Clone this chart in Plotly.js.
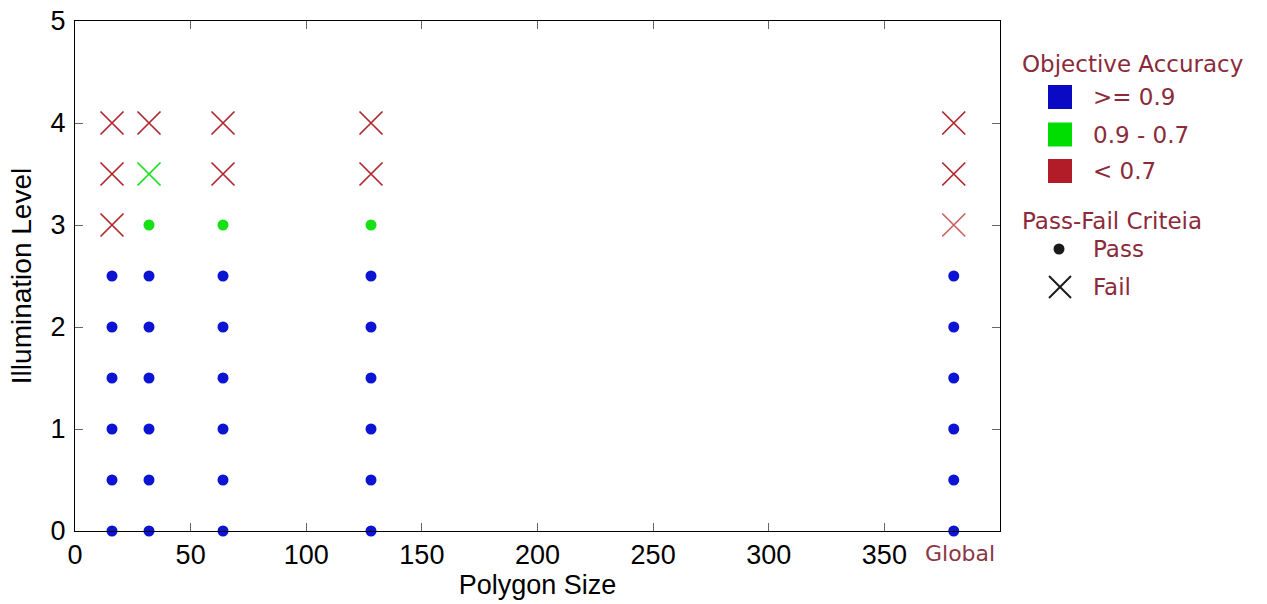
<!DOCTYPE html>
<html>
<head>
<meta charset="utf-8">
<script src="https://cdn.plot.ly/plotly-3.0.1.min.js"></script>
<style>html,body{margin:0;padding:0;background:#fff;}#chart{width:1267px;height:604px;}</style>
</head>
<body>
<div id="chart"></div>
<script>
// ---- Data ----
const polygonSizes = [16, 32, 64, 128, 380];          // 380 = "Global"
const illuminationLevels = [0, 0.5, 1, 1.5, 2, 2.5, 3, 3.5, 4];

const accuracy16     = ['high','high','high','high','high','high','low','low','low'];
const result16       = ['pass','pass','pass','pass','pass','pass','fail','fail','fail'];
const accuracy32     = ['high','high','high','high','high','high','mid','mid','low'];
const result32       = ['pass','pass','pass','pass','pass','pass','pass','fail','fail'];
const accuracy64     = ['high','high','high','high','high','high','mid','low','low'];
const result64       = ['pass','pass','pass','pass','pass','pass','pass','fail','fail'];
const accuracy128    = ['high','high','high','high','high','high','mid','low','low'];
const result128      = ['pass','pass','pass','pass','pass','pass','pass','fail','fail'];
const accuracyGlobal = ['high','high','high','high','high','high','low','low','low'];
const resultGlobal   = ['pass','pass','pass','pass','pass','pass','fail','fail','fail'];

const accuracyClasses = ['high', 'mid', 'low'];
const accuracyLabels  = ['>= 0.9', '0.9 - 0.7', '< 0.7'];
const resultClasses   = ['pass', 'fail'];
const resultLabels    = ['Pass', 'Fail'];

const xTickValues = [0, 50, 100, 150, 200, 250, 300, 350];
const yTickValues = [0, 1, 2, 3, 4, 5];
const globalLabel = 'Global';

// ---- Styling ----
const markColors   = {high: '#0a14d2', mid: '#16e016', low: '#b3262b'};
const swatchColors = {high: '#0a0ac4', mid: '#00dd00', low: '#b21c28'};
const legendColor  = '#8b2a3a';
const legendFont   = 'DejaVu Sans, Verdana, sans-serif';

const accuracyCols = [accuracy16, accuracy32, accuracy64, accuracy128, accuracyGlobal];
const resultCols   = [result16, result32, result64, result128, resultGlobal];

const traces = [];
accuracyClasses.forEach(acc => {
  resultClasses.forEach(res => {
    const xs = [], ys = [], op = [];
    polygonSizes.forEach((sz, i) => {
      illuminationLevels.forEach((lv, j) => {
        if (accuracyCols[i][j] === acc && resultCols[i][j] === res) {
          xs.push(sz); ys.push(lv);
          // the Global fail mark at level 3 is drawn fainter in the reference
          op.push(i === polygonSizes.length - 1 && lv === 3 && res === 'fail' ? 0.72 : 1);
        }
      });
    });
    if (!xs.length) return;
    const isPass = res === 'pass';
    traces.push({
      type: 'scatter', mode: 'markers', x: xs, y: ys, showlegend: false,
      cliponaxis: false, hoverinfo: 'x+y',
      marker: isPass
        ? {symbol: 'circle', size: 11, color: markColors[acc], opacity: op, line: {width: 0}}
        : {symbol: 'x-thin-open', size: 23, color: markColors[acc], opacity: op,
           line: {width: 1.7, color: markColors[acc]}}
    });
  });
});

// ---- Plot-area geometry (pixels) for the hand-built legend ----
const W = 1267, H = 604, L = 75, R = 267, T = 21, B = 73;
const pw = W - L - R, ph = H - T - B;
const px = v => (v - L) / pw;
const py = v => (H - B - v) / ph;

const shapes = [];
const annotations = [];
const lgFont = {family: legendFont, size: 23, color: legendColor};

// Objective Accuracy legend
annotations.push({xref:'paper', yref:'paper', x: px(1020), y: py(64), xanchor:'left', yanchor:'middle',
  text:'Objective Accuracy', showarrow:false, font: lgFont});
const swatchY = [97, 134.5, 171];
accuracyClasses.forEach((acc, k) => {
  shapes.push({type:'rect', xref:'paper', yref:'paper', x0: px(1048), x1: px(1072),
    y0: py(swatchY[k] - 12), y1: py(swatchY[k] + 12), fillcolor: swatchColors[acc], line:{width:0}});
  annotations.push({xref:'paper', yref:'paper', x: px(1091), y: py(swatchY[k]), xanchor:'left', yanchor:'middle',
    text: accuracyLabels[k], showarrow:false, font: lgFont});
});

// Pass-Fail legend
annotations.push({xref:'paper', yref:'paper', x: px(1020), y: py(221), xanchor:'left', yanchor:'middle',
  text:'Pass-Fail Criteia', showarrow:false, font: lgFont});
shapes.push({type:'circle', xref:'paper', yref:'paper', x0: px(1053.5), x1: px(1064.5),
  y0: py(243.5), y1: py(254.5), fillcolor:'#1a1a1a', line:{width:0}});
shapes.push({type:'line', xref:'paper', yref:'paper', x0: px(1049), x1: px(1071), y0: py(276), y1: py(298),
  line:{color:'#1a1a1a', width:2}});
shapes.push({type:'line', xref:'paper', yref:'paper', x0: px(1049), x1: px(1071), y0: py(298), y1: py(276),
  line:{color:'#1a1a1a', width:2}});
const passFailY = [249, 287];
resultClasses.forEach((res, k) => {
  annotations.push({xref:'paper', yref:'paper', x: px(1091), y: py(passFailY[k]), xanchor:'left', yanchor:'middle',
    text: resultLabels[k], showarrow:false, font: lgFont});
});

// "Global" tick-like label
annotations.push({xref:'x', yref:'paper', x: polygonSizes[polygonSizes.length - 1], y: 0, xshift: 6, yshift: -22,
  xanchor:'center', yanchor:'middle', text: globalLabel, showarrow:false,
  font:{family: legendFont, size: 22, color: '#8a3844'}});

const axisFamily = 'Liberation Sans, Arial, Helvetica, sans-serif';
const tickFont = {family: axisFamily, size: 27, color: '#000'};

const layout = {
  width: W, height: H,
  margin: {l: L, r: R, t: T, b: B, pad: 0},
  paper_bgcolor: '#fff', plot_bgcolor: '#fff',
  showlegend: false,
  xaxis: {
    range: [0, 400], tickvals: xTickValues, ticks: 'inside', ticklen: 8, tickwidth: 1, tickcolor: '#666',
    showline: true, linecolor: '#000', linewidth: 1, mirror: 'ticks', showgrid: false, zeroline: false,
    tickfont: tickFont, ticklabelstandoff: 0,
    title: {text: 'Polygon Size', font: {family: axisFamily, size: 27, color: '#000'}, standoff: 2}
  },
  yaxis: {
    range: [0, 5], tickvals: yTickValues, ticks: 'inside', ticklen: 8, tickwidth: 1, tickcolor: '#666',
    showline: true, linecolor: '#000', linewidth: 1, mirror: 'ticks', showgrid: false, zeroline: false,
    tickfont: tickFont, ticklabelstandoff: 3,
    title: {text: 'Illumination Level', font: {family: axisFamily, size: 28, color: '#000'}, standoff: 10}
  },
  shapes: shapes,
  annotations: annotations
};

Plotly.newPlot('chart', traces, layout, {displayModeBar: false, staticPlot: true});
</script>
</body>
</html>
